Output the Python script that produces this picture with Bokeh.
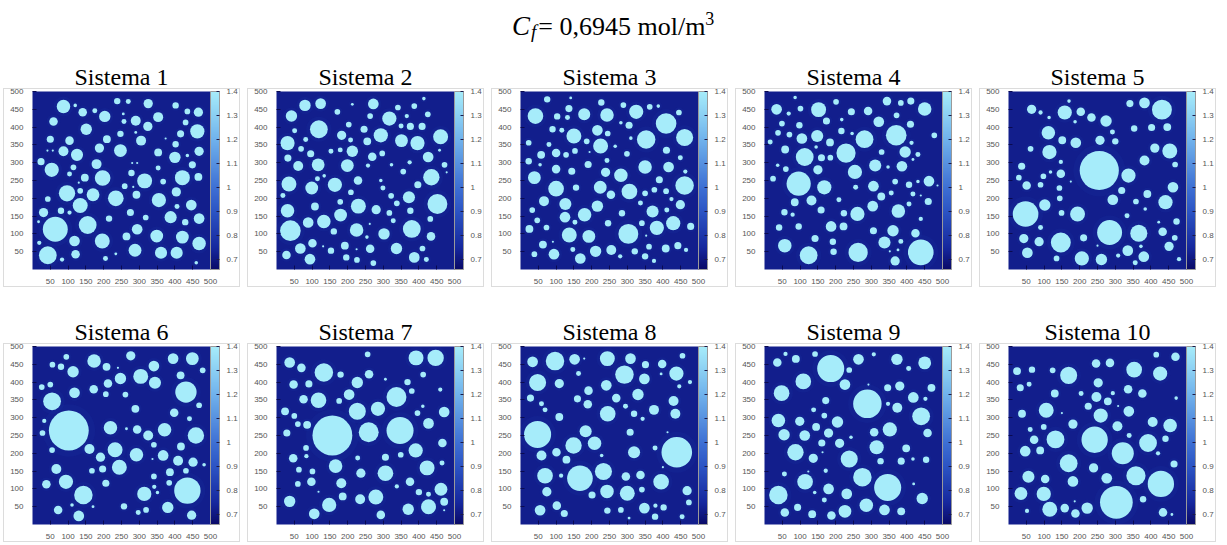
from bokeh.plotting import figure
from bokeh.layouts import column, row
from bokeh.models import (Range1d, FixedTicker, LinearColorMapper, ColorBar,
                          CustomJSTickFormatter, ColumnDataSource, InlineStyleSheet, Div)
from bokeh.transform import transform
from bokeh.embed import file_html
from bokeh.resources import INLINE

# ---------------------------------------------------------------------------
# Data: inclusions of each system as (x, y, radius) in grid units (0..500)
# ---------------------------------------------------------------------------
AXIS_TICKS = [50, 100, 150, 200, 250, 300, 350, 400, 450, 500]
CBAR_TICKS = [0.7, 0.8, 0.9, 1.0, 1.1, 1.2, 1.3, 1.4]
C_LOW, C_HIGH = 0.66, 1.4      # colour scale limits
C_MATRIX = 0.72                # concentration in the matrix
C_INCL = 1.4                   # concentration inside the inclusions
C_HALO = 0.82                  # enriched rim around the inclusions
C_FEED = "0,6945"              # feed concentration, mol/m^3

sistema_1 = [
    (87, 458, 19), (120, 461, 5), (141, 442, 12), (175, 446, 7), (203, 430, 16),
    (238, 473, 9), (269, 472, 7), (325, 466, 13), (402, 461, 9), (435, 444, 8),
    (466, 442, 13), (255, 437, 4), (257, 416, 7), (290, 418, 14), (353, 428, 14),
    (59, 416, 12), (151, 394, 16), (324, 402, 13), (430, 413, 8), (463, 388, 20),
    (290, 385, 4), (247, 381, 9), (209, 366, 11), (50, 366, 10), (104, 362, 12),
    (305, 362, 14), (374, 368, 3), (416, 381, 10), (402, 352, 9), (42, 334, 3),
    (57, 334, 3), (87, 332, 14), (125, 322, 17), (188, 341, 13), (247, 334, 18),
    (353, 329, 11), (400, 315, 16), (435, 320, 5), (468, 332, 13), (24, 303, 10),
    (54, 280, 20), (115, 287, 8), (180, 296, 14), (280, 299, 3), (294, 299, 3),
    (353, 285, 7), (449, 294, 10), (104, 268, 7), (147, 258, 11), (197, 257, 22),
    (278, 271, 9), (315, 249, 21), (367, 247, 8), (421, 258, 21), (466, 260, 11),
    (130, 244, 3), (259, 234, 8), (283, 232, 3), (134, 221, 8), (97, 214, 23),
    (170, 210, 18), (234, 200, 22), (292, 210, 11), (355, 195, 20), (404, 218, 13),
    (43, 198, 8), (134, 180, 21), (406, 177, 7), (446, 181, 15), (31, 160, 13),
    (80, 165, 9), (104, 160, 6), (275, 160, 10), (318, 146, 8), (388, 147, 17),
    (468, 143, 15), (429, 133, 9), (215, 143, 9), (17, 134, 4), (64, 113, 35),
    (155, 125, 25), (294, 113, 15), (264, 93, 11), (349, 94, 18), (421, 91, 18),
    (118, 80, 15), (196, 80, 21), (468, 73, 19), (19, 75, 6), (43, 40, 25),
    (121, 43, 12), (83, 28, 6), (205, 31, 7), (234, 44, 4), (288, 54, 18),
    (361, 47, 17), (405, 47, 17), (460, 19, 5),
]

sistema_2 = [
    (80, 461, 16), (124, 466, 15), (42, 431, 16), (171, 443, 8), (213, 464, 4),
    (272, 465, 15), (263, 431, 8), (317, 424, 20), (341, 455, 8), (387, 459, 8),
    (414, 480, 5), (366, 431, 6), (425, 436, 8), (119, 394, 25), (51, 390, 7),
    (203, 407, 8), (246, 394, 10), (293, 377, 20), (350, 403, 7), (376, 402, 10),
    (409, 402, 10), (183, 377, 13), (208, 364, 7), (82, 365, 7), (31, 355, 20),
    (255, 360, 11), (351, 362, 18), (396, 355, 20), (461, 373, 21), (69, 339, 8),
    (96, 325, 10), (153, 332, 7), (179, 336, 7), (213, 332, 16), (269, 317, 12),
    (297, 326, 8), (458, 335, 4), (32, 313, 10), (61, 291, 14), (117, 294, 18),
    (199, 292, 18), (257, 292, 6), (323, 294, 5), (374, 301, 6), (426, 316, 15),
    (472, 294, 8), (478, 273, 3), (356, 275, 8), (435, 259, 23), (115, 255, 7),
    (134, 263, 5), (35, 240, 21), (164, 238, 20), (229, 250, 12), (293, 250, 5),
    (299, 229, 7), (397, 238, 10), (99, 229, 18), (209, 217, 8), (18, 208, 7),
    (322, 207, 8), (372, 203, 17), (452, 184, 28), (108, 177, 11), (179, 190, 8),
    (230, 178, 21), (280, 168, 13), (338, 186, 8), (31, 165, 19), (317, 159, 8),
    (376, 165, 9), (180, 153, 18), (328, 137, 7), (432, 142, 8), (89, 132, 15),
    (133, 135, 19), (39, 109, 29), (161, 107, 9), (225, 111, 19), (262, 128, 3),
    (302, 100, 16), (380, 114, 25), (434, 93, 12), (254, 91, 5), (67, 59, 15),
    (101, 74, 12), (131, 65, 3), (153, 53, 9), (192, 67, 11), (225, 57, 3),
    (263, 58, 12), (337, 59, 16), (410, 59, 8), (28, 41, 12), (94, 29, 15),
    (196, 34, 9), (226, 27, 8), (272, 18, 8), (387, 34, 15), (421, 28, 7),
]

sistema_3 = [
    (75, 478, 9), (141, 482, 4), (227, 469, 9), (136, 452, 10), (42, 431, 22),
    (103, 430, 9), (132, 427, 7), (179, 436, 17), (243, 434, 19), (289, 462, 8),
    (325, 443, 20), (363, 457, 8), (387, 459, 5), (409, 410, 29), (445, 441, 8),
    (282, 412, 5), (305, 405, 10), (90, 394, 9), (116, 391, 7), (150, 375, 21),
    (216, 391, 15), (245, 382, 8), (353, 365, 26), (461, 371, 24), (186, 360, 8),
    (310, 369, 5), (23, 356, 8), (80, 351, 7), (225, 347, 21), (266, 346, 5),
    (100, 327, 12), (58, 322, 11), (128, 322, 8), (153, 333, 8), (194, 330, 3),
    (299, 325, 8), (410, 335, 10), (449, 314, 7), (23, 304, 9), (55, 294, 5),
    (100, 282, 12), (144, 276, 10), (190, 295, 10), (243, 306, 7), (239, 273, 13),
    (350, 288, 19), (416, 288, 15), (463, 275, 6), (39, 258, 18), (282, 265, 19),
    (390, 252, 10), (100, 227, 22), (156, 230, 9), (224, 231, 18), (254, 210, 12),
    (306, 219, 22), (350, 214, 8), (376, 224, 8), (409, 220, 8), (424, 198, 6),
    (461, 236, 26), (66, 192, 14), (126, 184, 17), (216, 178, 16), (337, 187, 7),
    (449, 182, 13), (33, 167, 8), (180, 154, 19), (125, 147, 15), (285, 158, 9),
    (371, 163, 17), (411, 167, 7), (47, 138, 8), (153, 133, 7), (246, 130, 9),
    (341, 130, 8), (383, 117, 20), (429, 130, 20), (478, 121, 10), (25, 114, 11),
    (73, 118, 8), (137, 97, 21), (192, 93, 18), (303, 100, 28), (353, 95, 3),
    (91, 78, 3), (63, 70, 11), (94, 43, 15), (39, 43, 8), (147, 56, 7),
    (168, 31, 15), (211, 51, 16), (255, 55, 14), (280, 37, 6), (321, 51, 9),
    (350, 37, 9), (361, 64, 8), (375, 24, 6), (408, 59, 11), (442, 67, 10),
    (465, 55, 6),
]

sistema_4 = [
    (86, 483, 5), (201, 471, 8), (344, 473, 12), (383, 468, 8), (411, 473, 10),
    (34, 450, 15), (68, 438, 6), (101, 452, 8), (152, 449, 21), (244, 443, 10),
    (291, 445, 12), (371, 433, 8), (450, 451, 19), (49, 410, 8), (98, 405, 9),
    (174, 417, 10), (217, 421, 5), (321, 415, 15), (410, 408, 10), (38, 384, 8),
    (70, 379, 8), (105, 368, 15), (148, 375, 17), (216, 389, 9), (246, 382, 5),
    (281, 366, 25), (370, 377, 29), (413, 356, 6), (477, 377, 8), (16, 358, 7),
    (58, 337, 11), (145, 344, 5), (184, 357, 11), (229, 327, 27), (329, 330, 8),
    (395, 330, 16), (113, 316, 25), (160, 314, 10), (185, 314, 8), (417, 309, 4),
    (431, 323, 7), (37, 293, 5), (60, 282, 8), (150, 280, 13), (254, 274, 20),
    (311, 292, 17), (347, 288, 5), (386, 290, 15), (24, 255, 8), (96, 241, 34),
    (168, 231, 20), (256, 231, 7), (306, 234, 15), (367, 247, 8), (406, 238, 9),
    (431, 247, 5), (462, 248, 15), (486, 236, 3), (328, 205, 11), (356, 215, 7),
    (417, 212, 7), (439, 208, 3), (85, 189, 11), (132, 194, 14), (209, 196, 7),
    (460, 191, 10), (56, 161, 9), (79, 154, 6), (159, 167, 10), (223, 158, 9),
    (261, 156, 20), (304, 178, 15), (376, 164, 19), (406, 184, 7), (41, 118, 9),
    (96, 121, 9), (187, 121, 15), (222, 121, 11), (306, 109, 10), (361, 109, 16),
    (424, 102, 12), (439, 142, 6), (142, 87, 10), (192, 78, 9), (57, 67, 19),
    (337, 76, 17), (383, 79, 7), (124, 40, 25), (194, 50, 9), (263, 48, 27),
    (352, 51, 3), (375, 55, 4), (367, 24, 13), (439, 48, 36),
]

sistema_5 = [
    (170, 473, 5), (65, 450, 13), (90, 441, 6), (114, 427, 5), (158, 441, 20),
    (203, 443, 12), (233, 427, 12), (274, 417, 16), (341, 466, 10), (382, 468, 15),
    (431, 449, 28), (187, 415, 5), (292, 386, 7), (353, 396, 9), (402, 399, 10),
    (446, 400, 11), (112, 384, 19), (151, 363, 11), (189, 356, 15), (257, 363, 13),
    (300, 360, 9), (62, 339, 8), (115, 330, 20), (411, 341, 13), (453, 333, 21),
    (147, 302, 6), (255, 278, 55), (382, 306, 14), (468, 295, 8), (37, 290, 10),
    (118, 274, 5), (147, 269, 12), (98, 262, 8), (29, 258, 8), (337, 264, 20),
    (175, 247, 3), (51, 236, 12), (90, 238, 8), (143, 229, 8), (318, 222, 10),
    (462, 231, 15), (390, 212, 11), (144, 200, 8), (293, 196, 15), (358, 191, 8),
    (441, 189, 20), (102, 181, 16), (384, 170, 5), (48, 156, 36), (149, 159, 8),
    (194, 156, 21), (333, 151, 7), (284, 104, 35), (366, 102, 24), (422, 133, 4),
    (472, 135, 9), (90, 118, 7), (433, 106, 12), (43, 87, 13), (86, 78, 13),
    (147, 76, 28), (211, 89, 10), (467, 89, 8), (250, 67, 3), (53, 47, 15),
    (135, 31, 8), (206, 31, 20), (261, 28, 16), (308, 39, 6), (335, 53, 15),
    (372, 65, 5), (380, 36, 15), (356, 19, 7), (451, 65, 13), (479, 29, 6),
]

sistema_6 = [
    (95, 471, 8), (56, 449, 8), (80, 443, 9), (114, 429, 16), (173, 459, 19),
    (208, 443, 11), (240, 440, 3), (276, 474, 13), (304, 416, 21), (341, 445, 15),
    (395, 466, 15), (449, 466, 18), (478, 433, 8), (416, 419, 11), (247, 410, 16),
    (212, 396, 12), (344, 398, 17), (26, 386, 8), (50, 393, 8), (118, 370, 15),
    (172, 380, 12), (206, 366, 8), (261, 365, 8), (431, 372, 30), (468, 335, 8),
    (55, 346, 25), (289, 325, 11), (398, 314, 12), (441, 297, 7), (33, 291, 6),
    (102, 264, 56), (219, 272, 19), (264, 269, 4), (294, 267, 12), (325, 250, 14),
    (371, 266, 19), (459, 250, 23), (28, 257, 8), (341, 224, 8), (417, 219, 11),
    (55, 209, 8), (160, 212, 14), (191, 189, 13), (232, 210, 21), (292, 196, 19),
    (367, 194, 15), (409, 179, 14), (451, 175, 13), (482, 168, 5), (337, 184, 3),
    (67, 156, 14), (167, 151, 8), (197, 156, 10), (244, 161, 21), (386, 147, 11),
    (431, 151, 8), (341, 135, 8), (39, 113, 12), (94, 120, 20), (206, 116, 10),
    (384, 117, 8), (342, 106, 6), (351, 90, 5), (435, 95, 37), (143, 83, 26),
    (314, 86, 20), (111, 55, 5), (170, 50, 4), (72, 41, 12), (130, 24, 15),
    (257, 51, 9), (297, 34, 7), (319, 41, 8), (380, 48, 16), (447, 26, 13),
]

sistema_7 = [
    (256, 478, 8), (37, 455, 15), (70, 440, 12), (133, 427, 26), (180, 421, 9),
    (260, 422, 12), (392, 468, 21), (447, 468, 23), (306, 408, 4), (227, 399, 16),
    (368, 400, 9), (412, 421, 8), (48, 393, 12), (91, 395, 10), (204, 365, 15),
    (337, 358, 28), (380, 375, 8), (460, 379, 6), (76, 352, 12), (118, 349, 22),
    (176, 347, 8), (227, 318, 24), (285, 325, 20), (411, 332, 5), (24, 318, 11),
    (50, 305, 8), (396, 313, 8), (471, 316, 15), (60, 282, 8), (86, 280, 11),
    (157, 250, 56), (259, 259, 28), (347, 264, 38), (427, 284, 15), (29, 257, 10),
    (83, 215, 8), (466, 229, 12), (391, 208, 20), (47, 186, 12), (84, 192, 6),
    (228, 187, 7), (306, 189, 10), (349, 196, 8), (465, 173, 7), (166, 164, 19),
    (63, 154, 8), (101, 149, 8), (237, 144, 13), (306, 144, 22), (423, 159, 21),
    (60, 114, 8), (98, 120, 12), (182, 116, 14), (375, 120, 12), (338, 107, 6),
    (462, 99, 18), (118, 92, 3), (400, 91, 9), (427, 85, 7), (186, 79, 11),
    (235, 71, 14), (279, 77, 21), (37, 65, 16), (148, 55, 20), (370, 43, 16),
    (427, 50, 21), (471, 64, 11), (471, 40, 3), (106, 30, 15), (293, 27, 12),
]

sistema_8 = [
    (34, 457, 15), (97, 459, 26), (152, 464, 15), (179, 466, 3), (244, 466, 21),
    (309, 466, 15), (351, 449, 10), (398, 451, 12), (455, 474, 8), (163, 424, 7),
    (292, 421, 26), (348, 409, 15), (395, 423, 4), (438, 424, 20), (48, 399, 24),
    (109, 396, 13), (241, 391, 15), (446, 388, 6), (476, 400, 6), (191, 376, 12),
    (330, 365, 16), (28, 355, 10), (160, 353, 10), (269, 355, 12), (430, 347, 14),
    (59, 339, 7), (189, 338, 12), (69, 322, 7), (295, 332, 7), (375, 322, 14),
    (245, 311, 22), (319, 311, 9), (343, 297, 6), (435, 311, 14), (109, 302, 11),
    (48, 253, 38), (183, 262, 17), (308, 259, 10), (413, 259, 3), (149, 222, 23),
    (208, 228, 19), (378, 215, 7), (439, 203, 43), (59, 194, 14), (101, 203, 12),
    (129, 182, 11), (228, 194, 5), (319, 203, 17), (69, 137, 22), (114, 137, 6),
    (167, 130, 36), (233, 149, 24), (296, 135, 12), (337, 139, 12), (400, 161, 3),
    (395, 120, 22), (74, 92, 13), (201, 83, 10), (243, 93, 19), (300, 88, 21),
    (341, 98, 8), (468, 95, 13), (473, 62, 8), (55, 40, 15), (102, 53, 12),
    (123, 31, 10), (244, 39, 9), (282, 41, 8), (305, 18, 4), (348, 46, 15),
    (379, 53, 6), (402, 48, 9), (378, 22, 9), (454, 22, 7),
]

sistema_9 = [
    (59, 479, 6), (142, 479, 8), (307, 478, 6), (36, 455, 12), (88, 465, 11),
    (186, 438, 38), (238, 434, 8), (264, 464, 15), (372, 464, 16), (405, 438, 7),
    (450, 454, 18), (109, 402, 22), (226, 393, 15), (292, 393, 3), (346, 384, 10),
    (380, 389, 13), (469, 384, 11), (48, 369, 22), (289, 339, 40), (418, 357, 15),
    (452, 353, 6), (172, 348, 10), (347, 339, 6), (373, 328, 14), (138, 322, 7),
    (440, 304, 25), (39, 292, 19), (99, 290, 13), (168, 306, 8), (205, 288, 16),
    (145, 274, 11), (180, 257, 13), (308, 259, 12), (352, 267, 20), (458, 257, 12),
    (55, 252, 16), (113, 250, 15), (243, 245, 5), (161, 229, 10), (211, 228, 13),
    (315, 217, 20), (398, 214, 11), (87, 203, 23), (163, 203, 3), (137, 186, 13),
    (238, 184, 24), (326, 178, 9), (384, 178, 10), (417, 184, 5), (454, 182, 9),
    (56, 142, 7), (123, 149, 3), (172, 151, 6), (114, 120, 22), (275, 133, 26),
    (346, 104, 38), (419, 114, 4), (39, 83, 26), (180, 100, 15), (231, 86, 15),
    (141, 90, 5), (443, 73, 16), (168, 69, 7), (93, 48, 10), (57, 34, 12),
    (134, 29, 11), (188, 25, 12), (226, 37, 18), (286, 54, 19), (337, 41, 15),
    (384, 37, 11),
]

sistema_10 = [
    (24, 431, 11), (66, 435, 9), (124, 433, 8), (169, 419, 24), (246, 452, 12),
    (285, 454, 12), (353, 435, 22), (415, 477, 8), (469, 471, 12), (426, 424, 20),
    (252, 398, 13), (33, 384, 10), (58, 394, 7), (130, 368, 11), (204, 368, 7),
    (247, 358, 14), (279, 346, 11), (293, 369, 6), (336, 380, 12), (376, 368, 12),
    (471, 355, 5), (224, 332, 10), (308, 333, 3), (106, 321, 21), (150, 313, 3),
    (259, 306, 20), (338, 318, 15), (38, 311, 11), (181, 282, 13), (306, 276, 14),
    (405, 288, 14), (454, 278, 19), (99, 274, 8), (61, 267, 7), (339, 250, 7),
    (242, 238, 37), (132, 239, 25), (72, 238, 12), (392, 229, 25), (441, 241, 9),
    (47, 206, 15), (89, 208, 11), (321, 200, 31), (420, 200, 6), (169, 172, 25),
    (239, 159, 13), (465, 170, 10), (56, 134, 17), (103, 128, 12), (181, 121, 15),
    (276, 130, 15), (358, 137, 27), (428, 114, 37), (35, 87, 18), (99, 86, 20),
    (303, 62, 46), (378, 71, 9), (186, 65, 3), (52, 38, 6), (116, 43, 21),
    (158, 46, 12), (188, 31, 12), (221, 46, 16), (434, 34, 12), (459, 28, 4),
]

SYSTEMS = [sistema_1, sistema_2, sistema_3, sistema_4, sistema_5,
           sistema_6, sistema_7, sistema_8, sistema_9, sistema_10]

# ---------------------------------------------------------------------------
# Colour map: dark navy -> blue -> pale cyan
# ---------------------------------------------------------------------------
ANCHORS = [(0.66, (10, 10, 104)), (0.75, (22, 40, 158)), (0.90, (44, 84, 196)),
           (1.00, (62, 112, 212)), (1.20, (112, 178, 236)), (1.40, (166, 236, 250))]


def shade(v):
    v = min(max(v, ANCHORS[0][0]), ANCHORS[-1][0])
    for (v0, c0), (v1, c1) in zip(ANCHORS[:-1], ANCHORS[1:]):
        if v0 <= v <= v1:
            t = (v - v0) / (v1 - v0)
            rgb = [round(a + (b - a) * t) for a, b in zip(c0, c1)]
            return "#%02x%02x%02x" % tuple(rgb)
    return "#%02x%02x%02x" % ANCHORS[-1][1]


PALETTE = [shade(C_LOW + (C_HIGH - C_LOW) * i / 255) for i in range(256)]
MAPPER = LinearColorMapper(palette=PALETTE, low=C_LOW, high=C_HIGH)

SERIF = "Liberation Serif"
SANS = "Liberation Sans"
LABEL_GREY = "#555555"

# thin light frame around each sub-plot canvas (title stays outside of it)
PANEL_FRAME = InlineStyleSheet(css="""
:host::after {
  content: "";
  position: absolute;
  left: 3px; top: 40px; width: 237px; height: 199px;
  border: 1px solid #dcdcdc;
  pointer-events: none;
  box-sizing: border-box;
}
""")


def make_panel(number, circles, height, border_bottom):
    p = figure(width=244, height=height,
               x_range=Range1d(0, 500), y_range=Range1d(0, 500),
               output_backend="svg", toolbar_location=None,
               min_border_left=32, min_border_right=34,
               min_border_top=43, min_border_bottom=border_bottom,
               title=f"Sistema {number}", stylesheets=[PANEL_FRAME])
    p.title.align = "center"
    p.title.offset = 3
    p.title.text_font = SERIF
    p.title.text_font_size = "24px"
    p.title.text_font_style = "normal"
    p.title.text_color = "#000000"
    p.title.standoff = 3

    p.background_fill_color = shade(C_MATRIX)
    p.border_fill_color = "#ffffff"
    p.outline_line_color = None
    p.grid.visible = False

    for ax in (p.xaxis, p.yaxis):
        ax.ticker = FixedTicker(ticks=AXIS_TICKS)
        ax.axis_line_color = None
        ax.major_tick_in = 4
        ax.major_tick_out = 0
        ax.major_tick_line_color = "#0a0a50"
        ax.minor_tick_line_color = None
        ax.major_label_text_font = SANS
        ax.major_label_text_font_size = "8px"
        ax.major_label_text_color = LABEL_GREY
        ax.major_label_standoff = 9

    xs = [c[0] for c in circles]
    ys = [c[1] for c in circles]
    rs = [c[2] for c in circles]
    src = ColumnDataSource(dict(
        x=xs, y=ys, r=rs,
        halo=[ri * 1.25 + 4 for ri in rs],
        c=[C_INCL] * len(xs),
        ch=[C_HALO] * len(xs),
    ))
    # faint enriched rim, then the inclusions themselves
    p.circle("x", "y", radius="halo", source=src,
             fill_color=transform("ch", MAPPER), fill_alpha=0.13, line_color=None)
    p.circle("x", "y", radius="r", source=src,
             fill_color=transform("c", MAPPER), line_color=None)

    cb = ColorBar(color_mapper=MAPPER,
                  ticker=FixedTicker(ticks=CBAR_TICKS),
                  formatter=CustomJSTickFormatter(
                      code="return String(Math.round(tick * 10) / 10);"),
                  width=9, height=178, padding=0, margin=4,
                  label_standoff=7,
                  major_label_text_font=SANS,
                  major_label_text_font_size="8px",
                  major_label_text_color=LABEL_GREY,
                  major_tick_line_color="#1a1a4a", major_tick_in=3, major_tick_out=0,
                  minor_tick_line_color=None,
                  bar_line_color="#9a9a9a", bar_line_width=1,
                  border_line_color=None, background_fill_color=None)
    p.add_layout(cb, "right")
    return p


# ---------------------------------------------------------------------------
# Heading:  C_f = 0,6945 mol/m^3  (HTML so that sub/superscripts are native)
# ---------------------------------------------------------------------------
head = Div(
    width=1220, height=48, margin=0,
    text=(
        '<div style="position:absolute; left:512px; top:11px; white-space:nowrap;'
        ' font-family:\'Liberation Serif\', serif; font-size:26px; line-height:30px;'
        ' color:#000;">'
        '<i style="font-size:27px;">C</i>'
        '<i style="font-size:19px; position:relative; top:3px;'
        ' margin-left:1px; padding-right:2px;">f</i>'
        f'= {C_FEED} mol/m'
        '<span style="font-size:18px; position:relative; top:-10px;">3</span>'
        '</div>'
    ),
    styles={"position": "relative", "overflow": "visible"},
)

top_row = row(*[make_panel(i + 1, SYSTEMS[i], 255, 34) for i in range(5)])
bottom_row = row(*[make_panel(i + 1, SYSTEMS[i], 241, 20) for i in range(5, 10)])

layout = column(head, top_row, bottom_row)

open("out.html", "w").write(file_html(layout, INLINE))
